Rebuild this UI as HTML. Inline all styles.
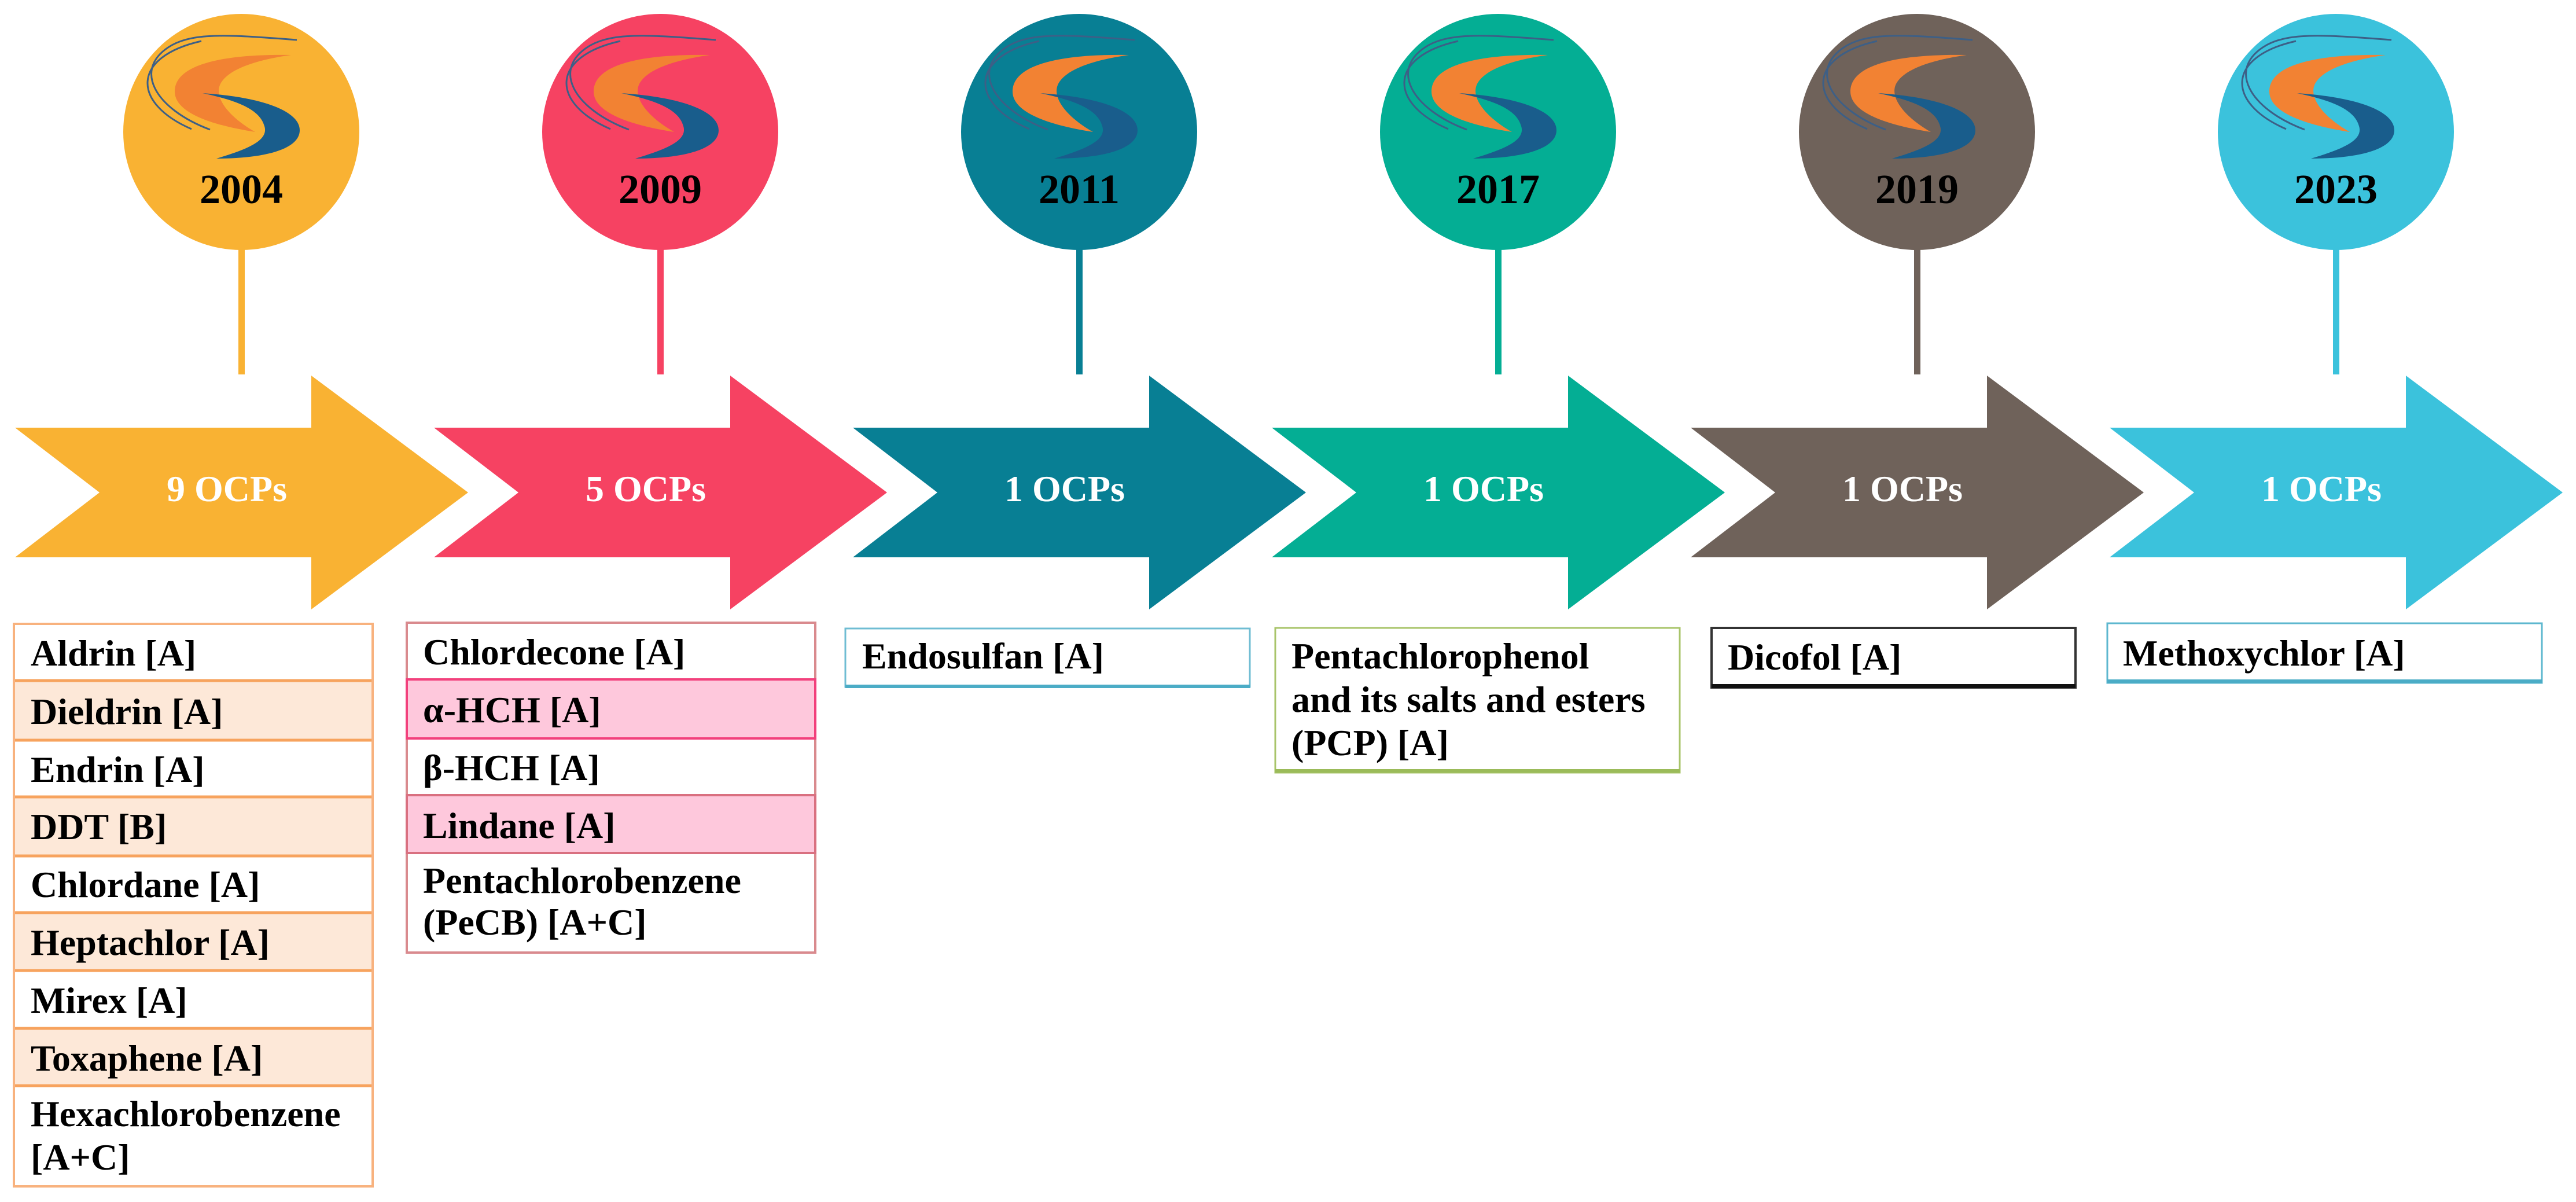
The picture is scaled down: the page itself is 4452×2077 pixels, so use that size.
<!DOCTYPE html>
<html><head><meta charset="utf-8"><style>
html,body{margin:0;padding:0;background:#fff;}
svg{display:block;}
text{font-family:"Liberation Serif",serif;font-weight:bold;}
</style></head><body>
<svg width="4452" height="2077" viewBox="0 0 4452 2077" xmlns="http://www.w3.org/2000/svg">
<defs>
<g id="logo">
  <path d="M-54,-4 C-150,-40 -190,-110 -120,-150 C-80,-172 -20,-168 96,-159" fill="none" stroke="#3d5f86" stroke-width="3"/>
  <path d="M-86,-5 C-190,-50 -190,-130 -69,-157" fill="none" stroke="#3d5f86" stroke-width="3"/>
  <path d="M86,-133 C-20,-135 -115,-120 -115,-70 C-115,-30 -40,-10 24,0 C-20,-25 -50,-60 -35,-85 C-20,-110 30,-125 86,-133 Z" fill="#f28233"/>
  <path d="M-67,-67 C40,-60 101,-35 101,-3 C101,30 40,46 -43,46 C10,30 48,15 40,-10 C32,-40 -10,-55 -67,-67 Z" fill="#195d8c"/>
</g>
</defs>

<g>
  <rect x="412" y="425" width="11" height="222" fill="#f9b233"/>
  <circle cx="417" cy="228" r="204" fill="#f9b233"/>
  <use href="#logo" x="417" y="228"/>
  <text x="417" y="351" font-size="72" text-anchor="middle" fill="#000">2004</text>

  <rect x="1136" y="425" width="11" height="222" fill="#f64262"/>
  <circle cx="1141" cy="228" r="204" fill="#f64262"/>
  <use href="#logo" x="1141" y="228"/>
  <text x="1141" y="351" font-size="72" text-anchor="middle" fill="#000">2009</text>

  <rect x="1860" y="425" width="11" height="222" fill="#087f94"/>
  <circle cx="1865" cy="228" r="204" fill="#087f94"/>
  <use href="#logo" x="1865" y="228"/>
  <text x="1865" y="351" font-size="72" text-anchor="middle" fill="#000">2011</text>

  <rect x="2584" y="425" width="11" height="222" fill="#04ae94"/>
  <circle cx="2589" cy="228" r="204" fill="#04ae94"/>
  <use href="#logo" x="2589" y="228"/>
  <text x="2589" y="351" font-size="72" text-anchor="middle" fill="#000">2017</text>

  <rect x="3308" y="425" width="11" height="222" fill="#6f625a"/>
  <circle cx="3313" cy="228" r="204" fill="#6f625a"/>
  <use href="#logo" x="3313" y="228"/>
  <text x="3313" y="351" font-size="72" text-anchor="middle" fill="#000">2019</text>

  <rect x="4032" y="425" width="11" height="222" fill="#3bc2dc"/>
  <circle cx="4037" cy="228" r="204" fill="#3bc2dc"/>
  <use href="#logo" x="4037" y="228"/>
  <text x="4037" y="351" font-size="72" text-anchor="middle" fill="#000">2023</text>
</g>

<g font-size="64" fill="#fff">
  <polygon points="26,739 538,739 538,649 809,851 538,1053 538,963 26,963 172,851" fill="#f9b233"/>
  <text x="392" y="866" text-anchor="middle" fill="#fff">9 OCPs</text>
  <polygon points="750,739 1262,739 1262,649 1533,851 1262,1053 1262,963 750,963 896,851" fill="#f64262"/>
  <text x="1116" y="866" text-anchor="middle" fill="#fff">5 OCPs</text>
  <polygon points="1474,739 1986,739 1986,649 2257,851 1986,1053 1986,963 1474,963 1620,851" fill="#087f94"/>
  <text x="1840" y="866" text-anchor="middle" fill="#fff">1 OCPs</text>
  <polygon points="2198,739 2710,739 2710,649 2981,851 2710,1053 2710,963 2198,963 2344,851" fill="#04ae94"/>
  <text x="2564" y="866" text-anchor="middle" fill="#fff">1 OCPs</text>
  <polygon points="2922,739 3434,739 3434,649 3705,851 3434,1053 3434,963 2922,963 3068,851" fill="#6f625a"/>
  <text x="3288" y="866" text-anchor="middle" fill="#fff">1 OCPs</text>
  <polygon points="3646,739 4158,739 4158,649 4429,851 4158,1053 4158,963 3646,963 3792,851" fill="#3bc2dc"/>
  <text x="4012" y="866" text-anchor="middle" fill="#fff">1 OCPs</text>
</g>

<g font-size="64" fill="#000">
  <rect x="24" y="1078" width="620" height="98" fill="#fff"/>
  <rect x="24" y="1176" width="620" height="103" fill="#fde8d8"/>
  <rect x="24" y="1279" width="620" height="98" fill="#fff"/>
  <rect x="24" y="1377" width="620" height="102" fill="#fde8d8"/>
  <rect x="24" y="1479" width="620" height="98" fill="#fff"/>
  <rect x="24" y="1577" width="620" height="100" fill="#fde8d8"/>
  <rect x="24" y="1677" width="620" height="100" fill="#fff"/>
  <rect x="24" y="1777" width="620" height="99" fill="#fde8d8"/>
  <rect x="24" y="1876" width="620" height="174" fill="#fff"/>
  <g stroke="#f7a35e" stroke-width="5">
    <line x1="24" y1="1176" x2="644" y2="1176"/>
    <line x1="24" y1="1279" x2="644" y2="1279"/>
    <line x1="24" y1="1377" x2="644" y2="1377"/>
    <line x1="24" y1="1479" x2="644" y2="1479"/>
    <line x1="24" y1="1577" x2="644" y2="1577"/>
    <line x1="24" y1="1677" x2="644" y2="1677"/>
    <line x1="24" y1="1777" x2="644" y2="1777"/>
    <line x1="24" y1="1876" x2="644" y2="1876"/>
  </g>
  <rect x="24" y="1078" width="620" height="972" fill="none" stroke="#f8b27e" stroke-width="4"/>
  <text x="53" y="1150" fill="#000">Aldrin [A]</text>
  <text x="53" y="1251" fill="#000">Dieldrin [A]</text>
  <text x="53" y="1351" fill="#000">Endrin [A]</text>
  <text x="53" y="1450" fill="#000">DDT [B]</text>
  <text x="53" y="1550" fill="#000">Chlordane [A]</text>
  <text x="53" y="1650" fill="#000">Heptachlor [A]</text>
  <text x="53" y="1750" fill="#000">Mirex [A]</text>
  <text x="53" y="1850" fill="#000">Toxaphene [A]</text>
  <text x="53" y="1946" fill="#000">Hexachlorobenzene</text>
  <text x="53" y="2021" fill="#000">[A+C]</text>
</g>

<g font-size="64" fill="#000">
  <rect x="703" y="1076" width="706" height="570" fill="#fff" stroke="#d98a8e" stroke-width="4"/>
  <rect x="703" y="1174" width="706" height="102" fill="#fec8dc" stroke="#f2407c" stroke-width="4"/>
  <rect x="703" y="1374" width="706" height="100" fill="#fec8dc" stroke="#d97080" stroke-width="4"/>
  <line x1="703" y1="1474" x2="1409" y2="1474" stroke="#d97080" stroke-width="4"/>
  <text x="731" y="1148" fill="#000">Chlordecone [A]</text>
  <text x="731" y="1248" fill="#000">α-HCH [A]</text>
  <text x="731" y="1348" fill="#000">β-HCH [A]</text>
  <text x="731" y="1448" fill="#000">Lindane [A]</text>
  <text x="731" y="1543" fill="#000">Pentachlorobenzene</text>
  <text x="731" y="1615" fill="#000">(PeCB) [A+C]</text>
</g>

<g font-size="64" fill="#000">
  <rect x="1461" y="1086" width="699" height="101" fill="#fff" stroke="#6fbdd3" stroke-width="3"/>
  <rect x="1461" y="1183" width="699" height="6" fill="#4bacc6"/>
  <text x="1490" y="1155" fill="#000">Endosulfan [A]</text>

  <rect x="2204" y="1085" width="699" height="250" fill="#fff" stroke="#a8c46a" stroke-width="3"/>
  <rect x="2204" y="1329" width="699" height="6" fill="#9bbb59"/>
  <text x="2232" y="1155" fill="#000">Pentachlorophenol</text>
  <text x="2232" y="1230" fill="#000">and its salts and esters</text>
  <text x="2232" y="1305" fill="#000">(PCP) [A]</text>

  <rect x="2958" y="1085" width="629" height="103" fill="#fff" stroke="#333" stroke-width="4"/>
  <rect x="2958" y="1182" width="629" height="7" fill="#111"/>
  <text x="2986" y="1157" fill="#000">Dicofol [A]</text>

  <rect x="3642" y="1077" width="751" height="103" fill="#fff" stroke="#5db7cf" stroke-width="3"/>
  <rect x="3642" y="1174" width="751" height="6" fill="#4bacc6"/>
  <text x="3669" y="1150" fill="#000">Methoxychlor [A]</text>
</g>
</svg>
</body></html>
